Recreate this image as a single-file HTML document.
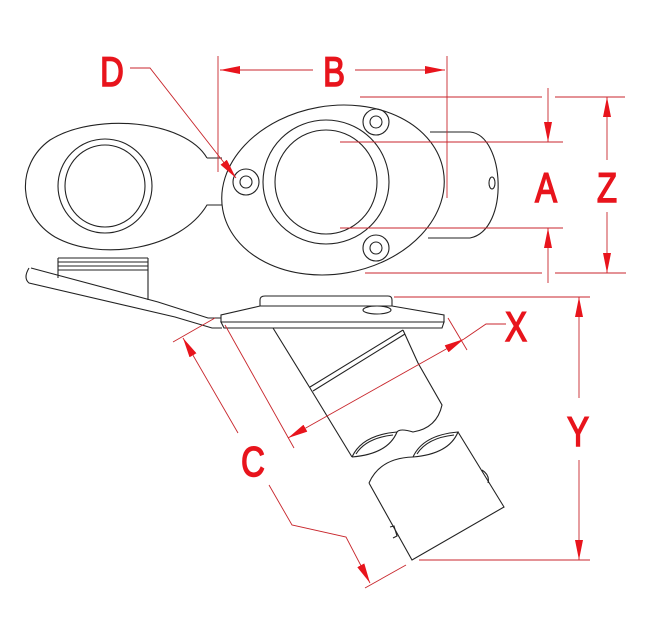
<!DOCTYPE html>
<html><head><meta charset="utf-8"><style>
html,body{margin:0;padding:0;background:#fff;}
svg{display:block;}
text{font-family:"Liberation Sans",sans-serif;fill:#e8141c;stroke:#e8141c;stroke-width:1.6;font-size:42px;text-anchor:middle;}
</style></head><body>
<svg width="650" height="640" viewBox="0 0 650 640" xmlns="http://www.w3.org/2000/svg">
<defs>
<marker id="ar" viewBox="0 0 20 8" refX="20" refY="4" markerWidth="20" markerHeight="8" markerUnits="userSpaceOnUse" orient="auto-start-reverse">
<path d="M0,0 L20,4 L0,8 Z" fill="#e8141c"/></marker>
</defs>
<g fill="none" stroke="#222" stroke-width="1.1">
<path d="M207,158 C185,120 95,112 50,140 C15,165 18,215 55,237 C100,262 180,250 207,205 L222,205 M207,158 L222,158"/>
<ellipse cx="105" cy="186" rx="47" ry="47"/>
<ellipse cx="105" cy="186" rx="40" ry="41"/>
<path d="M430,132 L470,132 C505,135 510,230 470,238 L428,238"/>
<ellipse cx="333" cy="190" rx="112" ry="84" transform="rotate(-10 333 190)" fill="#fff"/>
<ellipse cx="326" cy="182" rx="63" ry="62"/>
<ellipse cx="326" cy="182" rx="51" ry="52"/>
<circle cx="376" cy="122" r="13"/><circle cx="376" cy="122" r="6"/>
<circle cx="376" cy="248" r="13"/><circle cx="376" cy="248" r="6"/>
<circle cx="246" cy="182" r="13"/><circle cx="246" cy="182" r="6"/>
<ellipse cx="492" cy="183" rx="3" ry="6"/>
<path d="M31,268 L158,302 L208,318 L221,318 M29,268 Q23,278 29,283 L175,317 L212,328 L222,328"/>
<path d="M58,258 L148,258 M58,262 L148,262 M58,266 L148,266 M58,270 L148,270 M58,258 L58,278 M148,258 L148,300"/>
<path d="M260,306 L260,300 Q260,296 265,296 L388,296 Q392,296 392,300 L392,306"/>
<path d="M221,322 L221,315 L260,306 L392,306 L444,315 L444,322 Z"/>
<path d="M221,322 L444,322 L442,328 L224,328 Z"/>
<ellipse cx="377" cy="310" rx="14" ry="4"/>
<path d="M273,328 L310,388 M310,387 L403,330 M313,391 L405,334 M403,330 L418,363 L442,405 Q437,428 413,432 Q400,428 397,432"/>
<path d="M310,388 L352,457"/>
<path d="M352,457 Q362,435 397,432 Q388,454 352,457 M356,454 Q366,438 393,435"/>
<path d="M413,457 Q423,435 458,432 Q449,454 413,457 M417,454 Q427,438 454,435"/>
<path d="M369,483 Q380,458 413,457 M369,483 L412,560 L504,507 L458,432"/>
<path d="M482,470 Q490,475 488,483 M390,527 L394,526 L397,536 L393,538"/>
</g>
<g fill="none" stroke="#c8262c" stroke-width="0.9">
<line x1="218" y1="56" x2="218" y2="172"/><line x1="447" y1="56" x2="447" y2="198"/>
<line x1="313" y1="70" x2="220" y2="70" marker-end="url(#ar)"/>
<line x1="355" y1="70" x2="445" y2="70" marker-end="url(#ar)"/>
<path d="M130,68 L150,68 L236,178" marker-end="url(#ar)"/>
<line x1="360" y1="97" x2="542" y2="97"/><line x1="555" y1="97" x2="625" y2="97"/>
<line x1="340" y1="142" x2="563" y2="142"/>
<line x1="340" y1="228" x2="563" y2="228"/>
<line x1="365" y1="273" x2="542" y2="273"/><line x1="555" y1="273" x2="626" y2="273"/>
<line x1="548" y1="88" x2="548" y2="142" marker-end="url(#ar)"/>
<line x1="548" y1="283" x2="548" y2="228" marker-end="url(#ar)"/>
<line x1="607" y1="160" x2="607" y2="97" marker-end="url(#ar)"/>
<line x1="607" y1="212" x2="607" y2="273" marker-end="url(#ar)"/>
<line x1="394" y1="297" x2="590" y2="297"/><line x1="419" y1="560" x2="590" y2="560"/>
<line x1="579" y1="398" x2="579" y2="297" marker-end="url(#ar)"/>
<line x1="579" y1="460" x2="579" y2="560" marker-end="url(#ar)"/>
<line x1="225" y1="325" x2="294" y2="448"/><line x1="448" y1="318" x2="467" y2="350"/>
<line x1="288" y1="438" x2="464" y2="339" marker-start="url(#ar)" marker-end="url(#ar)"/>
<path d="M464,339 L486,324 L506,324"/>
<line x1="173" y1="342" x2="215" y2="318"/><line x1="365" y1="588" x2="406" y2="565"/>
<line x1="238" y1="433" x2="183" y2="338" marker-end="url(#ar)"/>
<path d="M269,485 L292,525 L346,537 L370,583" marker-end="url(#ar)"/>
</g>
<g transform="translate(112,86) scale(0.78,1)"><text>D</text></g>
<g transform="translate(334,86) scale(0.78,1)"><text>B</text></g>
<g transform="translate(546,202) scale(0.78,1)"><text>A</text></g>
<g transform="translate(607,202) scale(0.78,1)"><text>Z</text></g>
<g transform="translate(516,341) scale(0.78,1)"><text>X</text></g>
<g transform="translate(578,446) scale(0.78,1)"><text>Y</text></g>
<g transform="translate(253,476) scale(0.78,1)"><text>C</text></g>
</svg>
</body></html>
